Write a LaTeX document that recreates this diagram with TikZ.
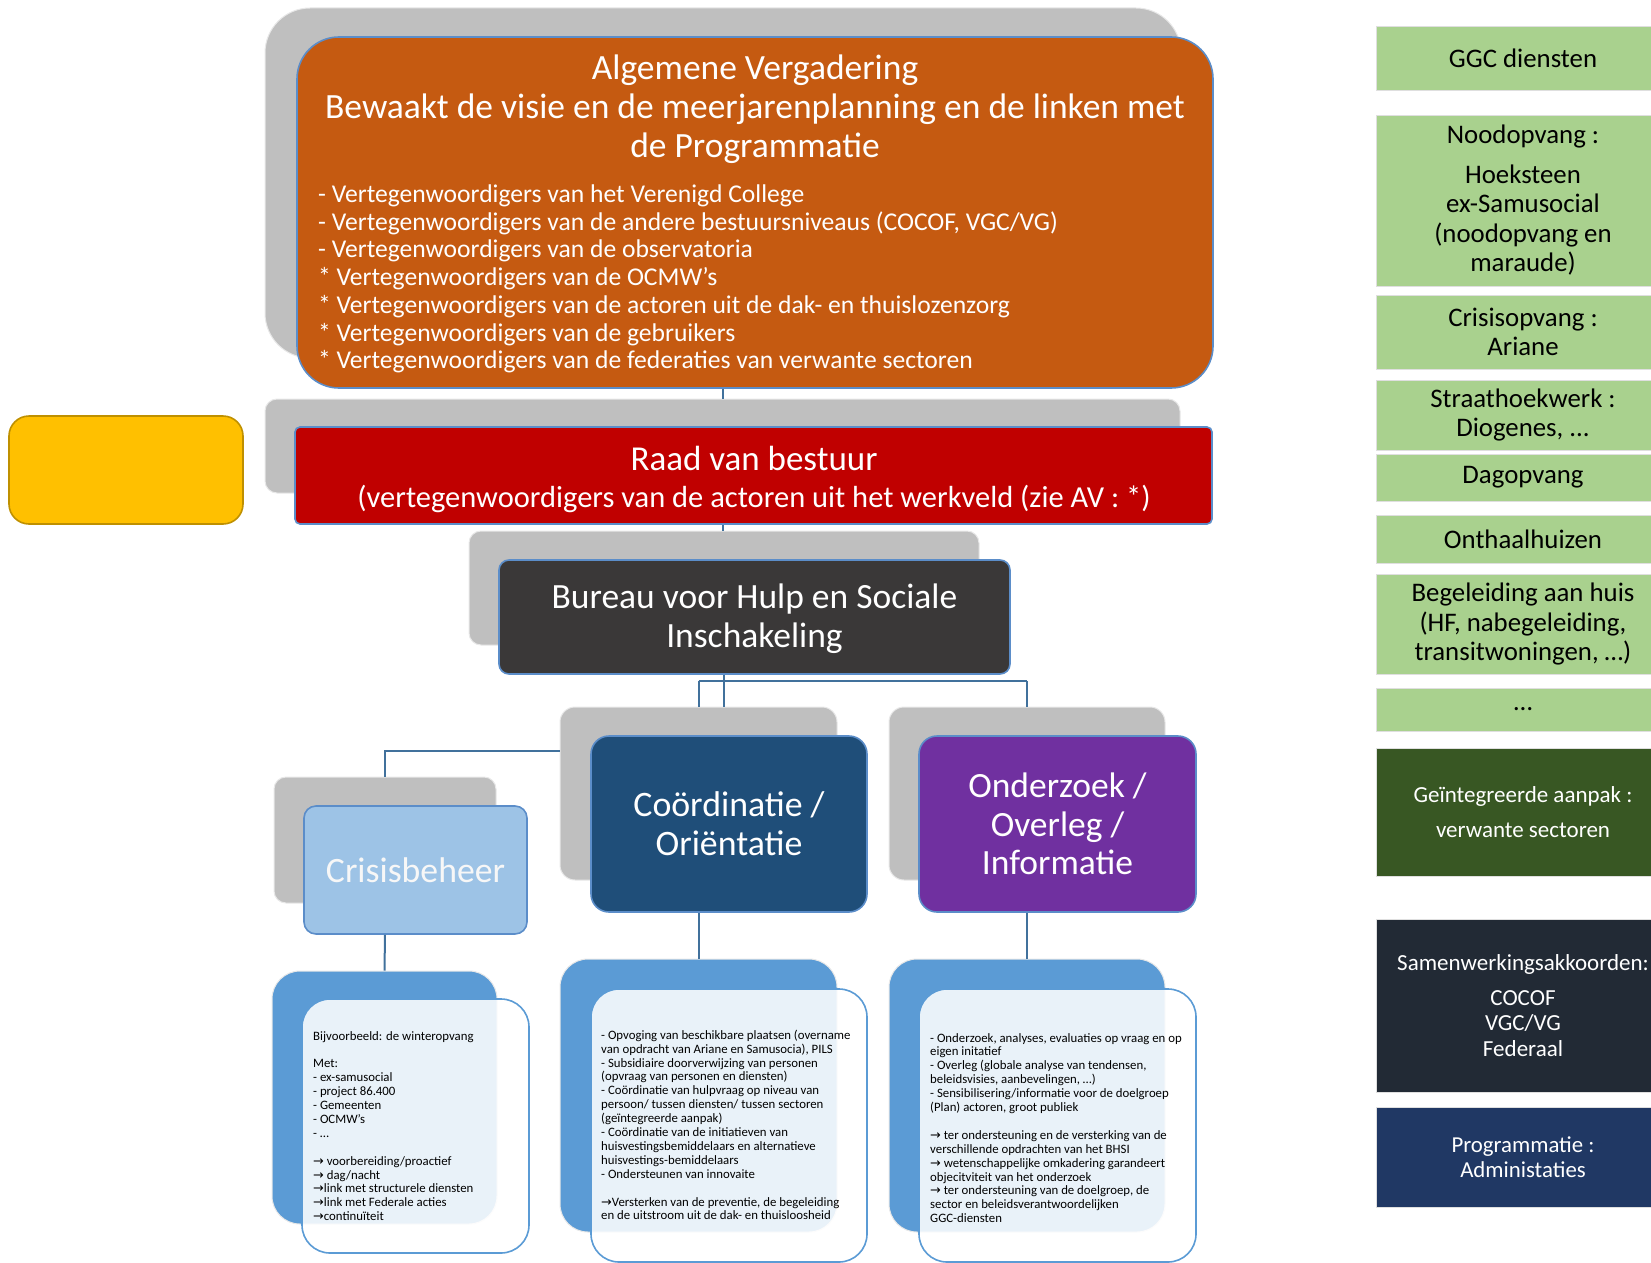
\documentclass[tikz,border=0pt]{standalone}
\usepackage{fontspec}
\setmainfont{Carlito}
\newfontfamily\symfont{DejaVu Sans}
\usepackage{tikz}

\definecolor{backgray}{HTML}{BFBFBF}
\definecolor{avorange}{HTML}{C55A11}
\definecolor{rvbred}{HTML}{C00000}
\definecolor{sideyellow}{HTML}{FFC000}
\definecolor{sideyellowedge}{HTML}{BF9000}
\definecolor{bureaugray}{HTML}{3A3838}
\definecolor{crisisblue}{HTML}{9DC3E6}
\definecolor{coorblue}{HTML}{1F4E79}
\definecolor{ondpurple}{HTML}{7030A0}
\definecolor{lowblue}{HTML}{5B9BD5}
\definecolor{edgeblue}{HTML}{5B8DC9}
\definecolor{lineblue}{HTML}{41719C}
\definecolor{ggcgreen}{HTML}{A9D18E}
\definecolor{ggcdark}{HTML}{385723}
\definecolor{samnavy}{HTML}{222A35}
\definecolor{prognavy}{HTML}{203864}

\newcommand\toarrow{{\symfont →}}
\newcommand\fs[2]{\fontsize{#1}{#2}\selectfont}

\begin{document}
\begin{tikzpicture}[x=1pt, y=-1pt,
	wh/.style 2 args={minimum width=#1pt, minimum height=#2pt},
	back/.style={fill=backgray, draw=white!82!gray, line width=1pt, rounded corners=#1, inner sep=0pt},
	back/.default=12pt,
	box/.style={draw=edgeblue, line width=1.6pt, text=white, align=center, inner sep=0pt},
	lowback/.style={fill=lowblue, draw=white!82!gray, line width=1pt, rounded corners=28pt, inner sep=0pt},
	card/.style={fill=white, fill opacity=0.87, draw=lowblue, line width=1.6pt, rounded corners=28pt, inner sep=0pt},
	conn/.style={draw=lineblue, line width=2pt},
	side/.style={fill=#1, draw=white!75!gray, line width=1pt, minimum width=294pt, align=center, inner sep=0pt},
	side/.default=ggcgreen,
	list/.style={anchor=west, align=left, inner sep=0pt, font=\fs{12.8}{13.9}}
]

	\def\busy{681} % height of the bus under the bureau
	\def\crisisy{751}

	\useasboundingbox (0,0) rectangle (1651,1263);
	\clip (0,0) rectangle (1651,1263);

	% algemene vergadering
	\node[back=45pt, wh={916}{350}] (avback) at (723,183) {};
	\node[box, fill=avorange, rounded corners=42pt, wh={916}{351}] (av) at (755,212.5) {};
	\node[text=white, align=center, font=\fs{35.5}{39}] (avtitle) at (755,109)
	{Algemene Vergadering\\Bewaakt de visie en de meerjarenplanning en de linken met\\de Programmatie};
	\node[anchor=west, text=white, align=left, inner sep=0pt, font=\fs{25.6}{27.7}] (avlist) at (318,279)
	{- Vertegenwoordigers van het Verenigd College\\
	- Vertegenwoordigers van de andere bestuursniveaus (COCOF, VGC/VG)\\
	- Vertegenwoordigers van de observatoria\\
	* Vertegenwoordigers van de OCMW’s\\
	* Vertegenwoordigers van de actoren uit de dak- en thuislozenzorg\\
	* Vertegenwoordigers van de gebruikers\\
	* Vertegenwoordigers van de federaties van verwante sectoren};

	% raad van bestuur
	\node[back, wh={915}{94}] (rvbback) at (722.5,446) {};
	\node[box, fill=rvbred, rounded corners=5pt, wh={917}{97}] (rvb) at (753.5,475.5) {};
	\node[text=white, align=center, font=\fs{30.5}{37}] (rvbtxt) at (754,479)
	{{\fs{35}{37}Raad van bestuur}\\(vertegenwoordigers van de actoren uit het werkveld (zie AV : *)};

	\node[fill=sideyellow, draw=sideyellowedge, line width=1.6pt, rounded corners=20pt, wh={234}{108}] (yellow) at (126,470) {};

	% bureau
	\node[back, wh={510}{114}] (bureauback) at (724,588) {};
	\node[box, fill=bureaugray, rounded corners=10pt, wh={511}{114}] (bureau) at (754.5,617) {};
	\node[text=white, align=center, font=\fs{35.5}{39}] (bureautxt) at (754.5,619)
	{Bureau voor Hulp en Sociale\\Inschakeling};

	% three branches
	\node[back, wh={222}{126}] (crisisback) at (385,840) {};
	\node[box, fill=crisisblue, text=white!94!gray, rounded corners=12pt, wh={223}{128}, font=\fs{35.7}{40}] (crisis) at (415.5,870) {Crisisbeheer};

	\node[back=15pt, wh={277}{173}] (coorback) at (698.5,793.5) {};
	\node[box, fill=coorblue, rounded corners=18pt, wh={276}{176}, font=\fs{35.8}{39}] (coor) at (729,824) {Coördinatie /\\Oriëntatie};

	\node[back=15pt, wh={276}{173}] (ondback) at (1027,793.5) {};
	\node[box, fill=ondpurple, rounded corners=18pt, wh={277}{176}, font=\fs{35.5}{38.5}] (ond) at (1057.5,824) {Onderzoek /\\Overleg /\\Informatie};

	% connectors
	\coordinate (bus) at (0,\busy);
	\coordinate (crisisbend) at (385,\crisisy);
	\draw[conn] (avback.center |- av.south) -- (avback.center |- rvbback.north);
	\draw[conn] (rvbback.center |- rvb.south) -- (rvbback.center |- bureauback.north);
	\draw[conn] (bureauback.center |- bureau.south) -- (bureauback.center |- coorback.north);
	\draw[conn] (bus -| coorback.north) -- (bus -| ondback.north);
	\draw[conn] (bus -| coorback.north) -- (coorback.north);
	\draw[conn] (bus -| ondback.north) -- (ondback.north);
	\draw[conn] (crisisbend -| coorback.west) -- (crisisbend) -- (crisisback.north);

	% lower cards
	\node[lowback, wh={225}{253}] (crisislow) at (384.5,1097.5) {};
	\node[card, wh={227}{254}] (crisiscard) at (415.5,1126) {};
	\node[list] (crisistxt) at (313,1126)
	{Bijvoorbeeld: de winteropvang\\[13.9pt]
	Met:\\
	- ex-samusocial\\
	- project 86.400\\
	- Gemeenten\\
	- OCMW's\\
	- …\\[13.9pt]
	\toarrow\ voorbereiding/proactief\\
	\toarrow\ dag/nacht\\
	\toarrow link met structurele diensten\\
	\toarrow link met Federale acties\\
	\toarrow continuïteit};

	\node[lowback, wh={277}{273}] (coorlow) at (698.5,1095.5) {};
	\node[card, wh={276}{273}] (coorcard) at (729,1125.5) {};
	\node[list] (coortxt) at (601,1125)
	{- Opvoging van beschikbare plaatsen (overname\\
	van opdracht van Ariane en Samusocia), PILS\\
	- Subsidiaire doorverwijzing van personen\\
	(opvraag van personen en diensten)\\
	- Coördinatie van hulpvraag op niveau van\\
	persoon/ tussen diensten/ tussen sectoren\\
	(geïntegreerde aanpak)\\
	- Coördinatie van de initiatieven van\\
	huisvestingsbemiddelaars en alternatieve\\
	huisvestings-bemiddelaars\\
	- Ondersteunen van innovaite\\[13.9pt]
	\toarrow Versterken van de preventie, de begeleiding\\
	en de uitstroom uit de dak- en thuisloosheid};

	\node[lowback, wh={276}{273}] (ondlow) at (1027,1095.5) {};
	\node[card, wh={277}{273}] (ondcard) at (1057.5,1125.5) {};
	\node[list] (ondtxt) at (930,1128)
	{- Onderzoek, analyses, evaluaties op vraag en op\\
	eigen initatief\\
	- Overleg (globale analyse van tendensen,\\
	beleidsvisies, aanbevelingen, …)\\
	- Sensibilisering/informatie voor de doelgroep\\
	(Plan) actoren, groot publiek\\[13.9pt]
	\toarrow\ ter ondersteuning en de versterking van de\\
	verschillende opdrachten van het BHSI\\
	\toarrow\ wetenschappelijke omkadering garandeert\\
	objecitviteit van het onderzoek\\
	\toarrow\ ter ondersteuning van de doelgroep, de\\
	sector en beleidsverantwoordelijken\\
	GGC-diensten};

	\draw[conn] (crisisback.center |- crisis.south) -- (crisislow.north);
	\draw[conn] (coorback.center |- coor.south) -- (coorlow.north);
	\draw[conn] (ondback.center |- ond.south) -- (ondlow.north);

	% right column
	\node[side, minimum height=63pt, font=\fs{26.8}{29.5}] (ggc) at (1523,58.5) {GGC diensten};
	\node[side, minimum height=171pt, font=\fs{26.8}{29.5}] (nood) at (1523,200.5)
	{Noodopvang :\\[10pt]Hoeksteen\\ex-Samusocial\\(noodopvang en\\maraude)};
	\node[side, minimum height=74pt, font=\fs{26.8}{29.5}] (crisisopv) at (1523,332) {Crisisopvang :\\Ariane};
	\node[side, minimum height=70pt, font=\fs{26.8}{29.5}] (straat) at (1523,415) {Straathoekwerk :\\Diogenes, ...};
	\node[side, minimum height=47pt, font=\fs{26.8}{29.5}] (dag) at (1523,477.5) {Dagopvang};
	\node[side, minimum height=48pt, font=\fs{26.8}{29.5}] (onthaal) at (1523,539) {Onthaalhuizen};
	\node[side, minimum height=100pt, font=\fs{26.8}{29.5}] (begel) at (1523,624)
	{Begeleiding aan huis\\(HF, nabegeleiding,\\transitwoningen, …)};
	\node[side, minimum height=43pt, font=\fs{26.8}{29.5}] (dots) at (1523,709.5) {…};
	\node[side=ggcdark, text=white, minimum height=128pt, font=\fs{23}{25.5}] (geint) at (1523,812)
	{Geïntegreerde aanpak :\\[9.5pt]verwante sectoren};
	\node[side=samnavy, text=white, minimum height=173pt, font=\fs{23}{25.5}] (samen) at (1523,1005.5)
	{Samenwerkingsakkoorden:\\[9pt]COCOF\\VGC/VG\\Federaal};
	\node[side=prognavy, text=white, minimum height=100pt, font=\fs{22.8}{24.5}] (progr) at (1523,1157)
	{Programmatie :\\Administaties};

\end{tikzpicture}
\end{document}
